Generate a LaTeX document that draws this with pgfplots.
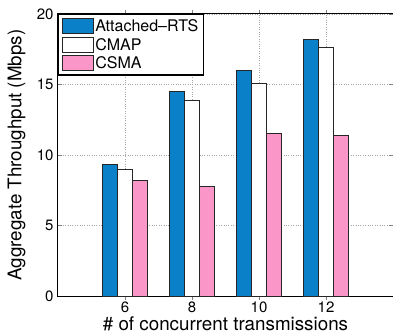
\documentclass[border=0pt]{standalone}
\usepackage{pgfplots}
\pgfplotsset{compat=1.18}
\usepackage{fontspec}
\setmainfont{TeX Gyre Heros}
\definecolor{cblue}{RGB}{10,128,200}
\definecolor{cpink}{RGB}{250,150,200}
\begin{document}
\begin{tikzpicture}
\begin{axis}[
  name=ax,
  scale only axis,
  width=335pt, height=282pt,
  xmin=4, xmax=14, ymin=0, ymax=20,
  xtick={6,8,10,12}, ytick={0,5,10,15,20},
  tick align=inside,
  major tick length=4pt,
  grid=major,
  major grid style={dotted, gray!70, line width=0.7pt},
  axis line style={line width=1pt},
  ybar=0pt, bar width=0.45,
  /pgf/number format/assume math mode=true,
  tick label style={font=\fontsize{15}{17}\selectfont},
  xticklabel style={yshift=2pt},
  yticklabel style={xshift=-1pt},
  label style={font=\fontsize{18.8}{21}\selectfont},
  xlabel={\# of concurrent transmissions},
  ylabel={Aggregate Throughput (Mbps)},
  xlabel style={at={(axis description cs:0.5,-0.099)}, anchor=center},
  ylabel style={at={(axis description cs:-0.124,0.5)}, anchor=center},
  legend style={at={(0,1)}, anchor=north west, draw=black, line width=1.2pt,
    font=\fontsize{16}{18}\selectfont, row sep=1pt, inner xsep=3pt, inner ysep=3pt},
  legend cell align=left,
  legend image code/.code={\draw[#1, line width=0.7pt] (0pt,-7.5pt) rectangle (31pt,7.5pt);},
]
\addplot[fill=cblue, draw=black!85, line width=0.8pt] coordinates {(6,9.3) (8,14.5) (10,16.0) (12,18.2)};
\addplot[fill=white, draw=black!85, line width=0.8pt] coordinates {(6,9.0) (8,13.9) (10,15.1) (12,17.6)};
\addplot[fill=cpink, draw=black!85, line width=0.8pt] coordinates {(6,8.2) (8,7.8) (10,11.5) (12,11.4)};
\legend{Attached--RTS, CMAP, CSMA}
\end{axis}
\pgfresetboundingbox
\useasboundingbox ([xshift=-58pt,yshift=-38pt]ax.south west) rectangle ([yshift=14pt]ax.north east);
\end{tikzpicture}
\end{document}
